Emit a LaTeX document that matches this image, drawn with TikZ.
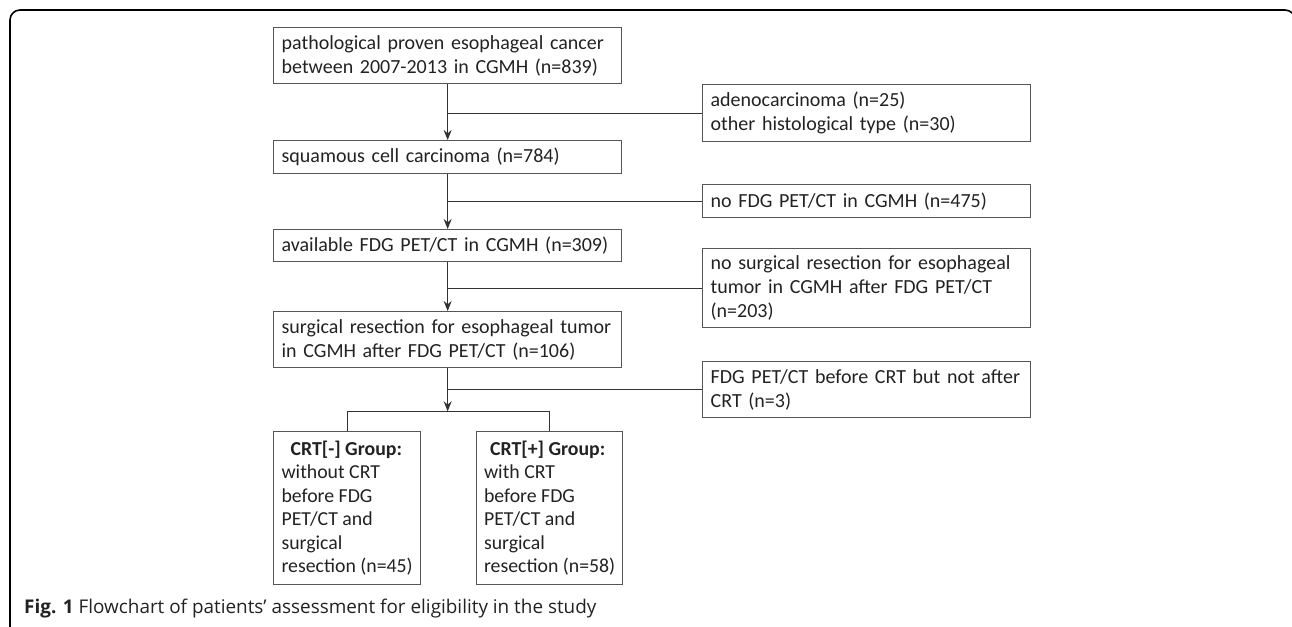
\documentclass[tikz,border=0pt]{standalone}
\usepackage{fontspec}
\setmainfont{Carlito}
\newfontfamily\capfont{Open Sans}
\usetikzlibrary{arrows.meta,calc}
\definecolor{txt}{HTML}{222222}
\definecolor{bord}{HTML}{555555}
\definecolor{conn}{HTML}{333333}
\begin{document}
\begin{tikzpicture}[x=1pt,y=-1pt,
  box/.style={draw=bord,line width=1.3pt,anchor=north west,align=left,
    inner xsep=8pt,inner ysep=0pt,text=txt,
    font=\fontsize{20}{24}\selectfont},
  grp/.style={box,inner xsep=0pt,font=\fontsize{19.8}{23.5}\selectfont},
  conn/.style={draw=conn,line width=1.3pt},
  arr/.style={conn,-{Stealth[length=10pt,width=8pt]}}]
\useasboundingbox (0,0) rectangle (1292,626);
\draw[line width=1.6pt,rounded corners=10pt] (10,640) -- (10,10) -- (1295,10) -- (1295,640);
% main column
\node[box,minimum width=348pt,minimum height=56pt,text width=332pt] (b1) at (273,27)
  {pathological proven esophageal cancer\\between 2007-2013 in CGMH (n=839)};
\node[box,minimum width=348pt,minimum height=33pt,text width=332pt] (b2) at (273,140)
  {squamous cell carcinoma (n=784)};
\node[box,minimum width=348pt,minimum height=32pt,text width=332pt] (b3) at (273,229)
  {available FDG PET/CT in CGMH (n=309)};
\node[box,minimum width=348pt,minimum height=56pt,text width=332pt] (b4) at (273,311)
  {surgical resection for esophageal tumor\\in CGMH after FDG PET/CT (n=106)};
% exclusion column
\node[box,minimum width=328pt,minimum height=57pt,text width=312pt] (e1) at (702,84)
  {adenocarcinoma (n=25)\\other histological type (n=30)};
\node[box,minimum width=328pt,minimum height=33pt,text width=312pt] (e2) at (702,184)
  {no FDG PET/CT in CGMH (n=475)};
\node[box,minimum width=328pt,minimum height=79pt,text width=312pt] (e3) at (702,248)
  {no surgical resection for esophageal\\tumor in CGMH after FDG PET/CT\\(n=203)};
\node[box,minimum width=328pt,minimum height=56pt,text width=312pt] (e4) at (702,361)
  {FDG PET/CT before CRT but not after\\CRT (n=3)};
% groups
\node[grp,minimum width=147pt,minimum height=153pt] (g1) at (273,431)
  {\hspace*{9pt}\textbf{CRT[-] Group:}\\without CRT\\before FDG\\PET/CT and\\surgical\\resection (n=45)};
\node[grp,minimum width=146pt,minimum height=153pt] (g2) at (476,431)
  {\hspace*{6pt}\textbf{CRT[+] Group:}\\with CRT\\before FDG\\PET/CT and\\surgical\\resection (n=58)};
% connectors
\draw[arr] (b1.south) -- (b2.north);
\draw[arr] (b2.south) -- (b3.north);
\draw[arr] (b3.south) -- (b4.north);
\coordinate (j1) at (b1.south |- e1.west);
\coordinate (j2) at (b2.south |- e2.west);
\coordinate (j3) at (b3.south |- e3.west);
\coordinate (j4) at (b4.south |- e4.west);
\draw[conn] (j1) -- (e1.west);
\draw[conn] (j2) -- (e2.west);
\draw[conn] (j3) -- (e3.west);
\draw[conn] (j4) -- (e4.west);
\coordinate (sp) at ($(b4.south)+(0,43)$);
\draw[arr] (b4.south) -- (sp);
\draw[conn] (g1.north) -- (g1.north |- sp) -- (g2.north |- sp) -- (g2.north);
% caption
\node[anchor=west,inner sep=0pt,text=txt,font=\capfont\fontsize{18.9}{22}\selectfont] (cap) at (24,609)
  {\textbf{Fig. 1} Flowchart of patients’ assessment for eligibility in the study};
\end{tikzpicture}
\end{document}
